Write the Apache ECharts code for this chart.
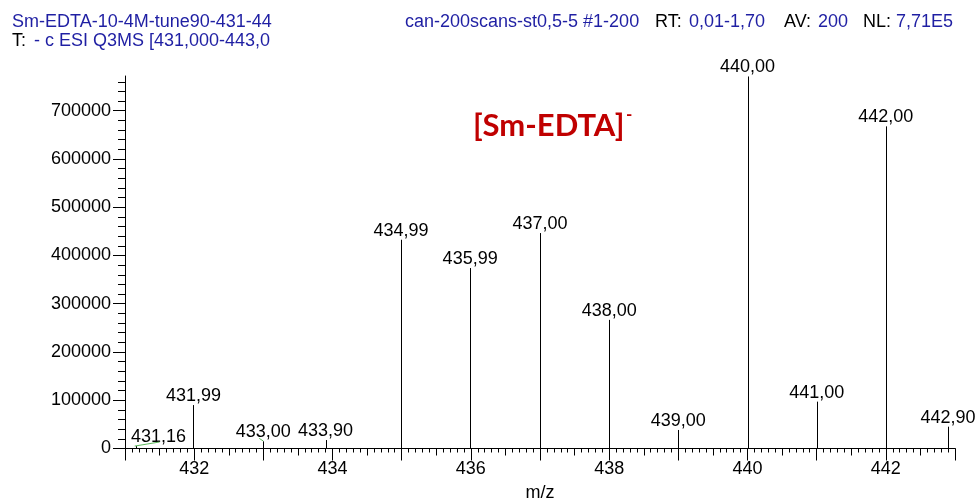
<!DOCTYPE html>
<html><head><meta charset="utf-8">
<script src="https://cdn.jsdelivr.net/npm/echarts@6/dist/echarts.min.js"></script>
<style>html,body{margin:0;padding:0;background:#fff}#c{width:978px;height:502px}</style>
</head><body><div id="c"></div>
<script>
// Centroid peaks (m/z, intensity)
const peakMz = [431.16, 431.99, 433.00, 433.90, 434.99, 435.99, 437.00, 438.00, 439.00, 440.00, 441.00, 442.00, 442.90];
const peakIntensity = [5000, 90000, 15000, 17500, 432600, 374000, 446500, 266600, 38400, 771000, 97100, 667600, 45200];
// Small profile traces (green)
const traceAMz = [431.14, 431.50];
const traceAIntensity = [5000, 13500];
const traceBMz = [432.94, 433.00];
const traceBIntensity = [21000, 15500];
// Axis ticks
const xTickLabels = [432, 434, 436, 438, 440, 442];
const yTickLabels = [0, 100000, 200000, 300000, 400000, 500000, 600000, 700000];
const yMax = 772000;

const FONT = '"Liberation Sans", Arial, sans-serif';
const BLUE = '#1f1fa3';
const fmt = v => v.toFixed(2).replace('.', ',');
const peakData = peakMz.map((m, i) => [m, peakIntensity[i]]);
const yMinor = []; for (let v = 0; v < yMax; v += 20000) yMinor.push(v);

const hdr = (x, y, text, fill, extra) => ({type: 'text', x: x, y: y,
  style: Object.assign({text: text, font: '18px ' + FONT, fill: fill, textVerticalAlign: 'middle'}, extra || {})});

const chart = echarts.init(document.getElementById('c'), null, {renderer: 'canvas'});
chart.setOption({
  animation: false,
  backgroundColor: '#fff',
  grid: {left: 125, right: 23, top: 76, bottom: 53.5, containLabel: false, outerBoundsMode: 'none'},
  xAxis: [{
    type: 'value', min: 431, max: 443, interval: 1,
    name: 'm/z', nameLocation: 'middle', nameGap: 36,
    nameTextStyle: {fontSize: 18, color: '#000', fontFamily: FONT},
    axisLine: {show: true, onZero: false, lineStyle: {color: '#000', width: 1}},
    axisTick: {show: true, length: 12, lineStyle: {color: '#000'}},
    minorTick: {show: true, splitNumber: 10, length: 4, lineStyle: {color: '#000'}},
    axisLabel: {fontSize: 18, color: '#000', fontFamily: FONT, margin: 12,
      formatter: v => xTickLabels.indexOf(v) >= 0 ? String(v) : ''},
    splitLine: {show: false}, minorSplitLine: {show: false}
  }, {
    type: 'value', min: 431, max: 443, interval: 0.5, position: 'bottom',
    axisLine: {show: false}, axisTick: {show: true, length: 7, lineStyle: {color: '#000'}},
    axisLabel: {show: false}, splitLine: {show: false}
  }],
  yAxis: [{
    type: 'value', min: 0, max: yMax, interval: 100000,
    axisLine: {show: true, onZero: false, lineStyle: {color: '#000', width: 1}},
    axisTick: {show: true, length: 12, lineStyle: {color: '#000'}, customValues: yTickLabels},
    axisLabel: {fontSize: 18, color: '#000', fontFamily: FONT, margin: 14,
      customValues: yTickLabels, formatter: v => String(v)},
    splitLine: {show: false}
  }, {
    type: 'value', min: 0, max: yMax, interval: 20000, position: 'left',
    axisLine: {show: false},
    axisTick: {show: true, length: 7, lineStyle: {color: '#000'}, customValues: yMinor},
    axisLabel: {show: false}, splitLine: {show: false}
  }],
  graphic: [
    hdr(12, 22, 'Sm-EDTA-10-4M-tune90-431-443', BLUE, {width: 268, overflow: 'truncate', ellipsis: ''}),
    hdr(12, 41, 'T:', '#000'),
    hdr(34, 41, '- c ESI Q3MS [431,000-443,00]', BLUE, {width: 246, overflow: 'truncate', ellipsis: ''}),
    hdr(405, 22, 'can-200scans-st0,5-5 #1-200', BLUE),
    hdr(655, 22, 'RT:', '#000'),
    hdr(689, 22, '0,01-1,70', BLUE),
    hdr(784, 22, 'AV:', '#000'),
    hdr(818, 22, '200', BLUE),
    hdr(863, 22, 'NL:', '#000'),
    hdr(896, 22, '7,71E5', BLUE),
    {type: 'text', x: 473, y: 126, style: {text: '[Sm-EDTA]', font: 'bold 31px Lato, "Open Sans", sans-serif',
      fill: '#c00000', textVerticalAlign: 'middle'}},
    {type: 'text', x: 626, y: 115, style: {text: '-', font: 'bold 17px Lato, "Open Sans", sans-serif',
      fill: '#c00000', textVerticalAlign: 'middle'}}
  ],
  series: [{
    type: 'custom', clip: false, xAxisIndex: 0, yAxisIndex: 0,
    data: peakData,
    renderItem: (params, api) => {
      const x = api.value(0), y = api.value(1);
      const p0 = api.coord([x, 0]), p1 = api.coord([x, y]);
      const cs = params.coordSys;
      const px = Math.round(p0[0]) + 0.5;
      let tx = p1[0], align = 'center';
      if (tx - 28 < cs.x + 6) { tx = cs.x + 6; align = 'left'; }
      return {type: 'group', children: [
        {type: 'line', shape: {x1: px, y1: p0[1], x2: px, y2: p1[1]}, style: {stroke: '#000', lineWidth: 1}},
        {type: 'text', x: tx, y: p1[1] - 9, style: {text: fmt(x), textAlign: align, textVerticalAlign: 'middle',
          font: '18px ' + FONT, fill: '#000'}}
      ]};
    }
  }, {
    type: 'line', xAxisIndex: 0, yAxisIndex: 0, symbol: 'none', silent: true,
    lineStyle: {color: '#5cb85c', width: 1},
    data: traceAMz.map((m, i) => [m, traceAIntensity[i]])
  }, {
    type: 'line', xAxisIndex: 0, yAxisIndex: 0, symbol: 'none', silent: true,
    lineStyle: {color: '#5cb85c', width: 1},
    data: traceBMz.map((m, i) => [m, traceBIntensity[i]])
  }]
});
</script></body></html>
